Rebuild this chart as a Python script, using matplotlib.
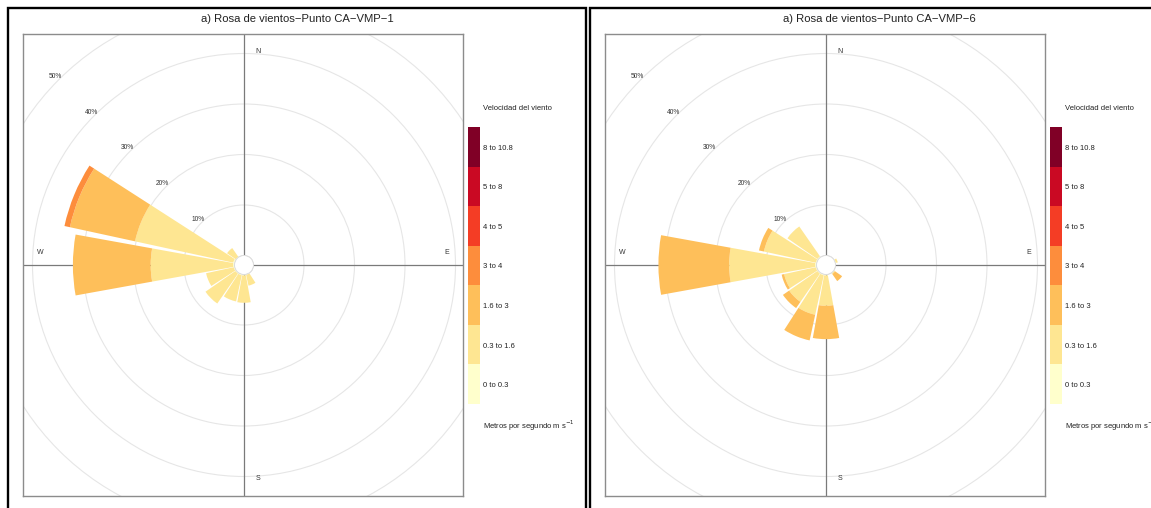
import matplotlib
matplotlib.use("Agg")
import matplotlib.pyplot as plt
from matplotlib.patches import Wedge, Circle, Rectangle

plt.rcParams['font.family'] = ['Liberation Sans', 'DejaVu Sans']

# ---------------- data ----------------
directions = [0, 22.5, 45, 67.5, 90, 112.5, 135, 157.5,
              180, 202.5, 225, 247.5, 270, 292.5, 315, 337.5]
speed_labels = ["0 to 0.3", "0.3 to 1.6", "1.6 to 3", "3 to 4",
                "4 to 5", "5 to 8", "8 to 10.8"]
ring_pcts = [10, 20, 30, 40, 50]
ring_labels = ["10%", "20%", "30%", "40%", "50%"]
titles = ["a) Rosa de vientos\u2212Punto CA\u2212VMP\u22121",
          "a) Rosa de vientos\u2212Punto CA\u2212VMP\u22126"]

# Percent of time per direction for each speed bin (CA-VMP-1)
vmp1_0_03 = [0, 0, 0, 0, 0, 0, 0, 0.1, 0.2, 0.2, 0.2, 0.2, 0.3, 0.3, 0.1, 0]
vmp1_03_16 = [0, 0, 0, 0, 0, 0, 0, 2.2, 5.4, 5.3, 7.2, 5.6, 16.3, 19.9, 2.1, 0]
vmp1_16_3 = [0, 0, 0, 0, 0, 0, 0, 0, 0, 0, 0, 0, 15.4, 13.2, 0, 0]
vmp1_3_4 = [0, 0, 0, 0, 0, 0, 0, 0, 0, 0, 0, 0, 0, 1.1, 0, 0]

# Percent of time per direction for each speed bin (CA-VMP-6)
vmp6_0_03 = [0, 0, 0, 0.1, 0, 0, 0.1, 0, 0.2, 0.2, 0.2, 0.2, 0.3, 0.2, 0.2, 0]
vmp6_03_16 = [0, 0, 0, 0.4, 0, 0, 0.2, 0, 6.0, 8.0, 6.8, 6.4, 17.0, 10.5, 7.2, 0]
vmp6_16_3 = [0, 0, 0, 0, 0, 0, 1.7, 0, 6.6, 5.2, 1.5, 0.5, 14.0, 1.0, 0, 0]
vmp6_3_4 = [0] * 16

panels = [
    [vmp1_0_03, vmp1_03_16, vmp1_16_3, vmp1_3_4],
    [vmp6_0_03, vmp6_03_16, vmp6_16_3, vmp6_3_4],
]

# ---------------- style ----------------
colors = ["#FFFFCC", "#FEE692", "#FEBF5A", "#FD8D3C",
          "#F43D25", "#CA0923", "#800026"]
W_PX, H_PX = 1151, 508
SCALE = 5.05            # pixels per percent
OFF = 9.5 / SCALE       # hollow centre radius in percent units
HALF = 10.25            # half width of petal in degrees

fig = plt.figure(figsize=(W_PX / 100, H_PX / 100), dpi=100)


def fx(x):
    return x / W_PX


def fy(y):
    return 1 - y / H_PX


def draw_panel(dx, title, bins):
    # outer panel frame
    fig.patches.append(Rectangle((fx(8 + dx), fy(530)), 578 / W_PX, 522 / H_PX,
                                 transform=fig.transFigure, fill=False,
                                 ec="black", lw=1.7, clip_on=False))
    fig.text(fx(297 + dx), fy(19.5), title, ha="center", va="center",
             fontsize=8.1, color="#222222")

    left, right, top, bottom = 23 + dx, 463 + dx, 34, 496
    cx, cy = 244 + dx, 265
    ax = fig.add_axes([fx(left), fy(bottom), (right - left) / W_PX,
                       (bottom - top) / H_PX])
    ax.set_xlim(-(cx - left) / SCALE, (right - cx) / SCALE)
    ax.set_ylim(-(bottom - cy) / SCALE, (cy - top) / SCALE)
    ax.set_xticks([])
    ax.set_yticks([])
    for s in ax.spines.values():
        s.set_color("#8c8c8c")
        s.set_linewidth(1.0)

    # rings
    for p, lab in zip(ring_pcts, ring_labels):
        ax.add_patch(Circle((0, 0), OFF + p, fill=False, ec="#e6e6e6",
                            lw=0.8, zorder=1))
        r = OFF + p + 0.9
        ax.text(-r * 0.7071, r * 0.7071, lab, ha="center", va="center",
                fontsize=4.8, color="#333333", zorder=5)
    ax.add_patch(Circle((0, 0), OFF, fill=False, ec="#dcdcdc", lw=0.7,
                        zorder=1))
    ax.axhline(0, color="#7a7a7a", lw=0.9, zorder=2)
    ax.axvline(0, color="#7a7a7a", lw=0.9, zorder=2)

    # petals
    for i, d in enumerate(directions):
        start = OFF
        for b, vals in enumerate(bins):
            v = vals[i]
            if v <= 0:
                continue
            ang = 90 - d
            ax.add_patch(Wedge((0, 0), start + v, ang - HALF, ang + HALF,
                               width=v, fc=colors[b], ec="none", zorder=3))
            start += v
    # hollow centre
    ax.add_patch(Circle((0, 0), OFF, fc="white", ec="#dcdcdc", lw=0.7,
                        zorder=4))

    # compass labels
    kw = dict(fontsize=5, color="#333333", ha="center", va="center")
    ax.text(2.8, 42.2, "N", **kw)
    ax.text(2.8, -42.2, "S", **kw)
    ax.text(-40.4, 2.4, "W", **kw)
    ax.text(40.2, 2.4, "E", **kw)

    # legend key
    lax = fig.add_axes([fx(468 + dx), fy(404), 12 / W_PX, 277 / H_PX])
    for k, c in enumerate(colors):
        lax.bar(0, 1, bottom=k, width=1, color=c, edgecolor="none")
    lax.set_xlim(-0.5, 0.5)
    lax.set_ylim(0, len(colors))
    lax.axis("off")
    for k, lab in enumerate(speed_labels):
        y = 404 - (k + 0.5) * 277 / len(colors) + 1.5
        fig.text(fx(483 + dx), fy(y), lab, fontsize=5.5, va="center",
                 ha="left", color="#222222")
    fig.text(fx(483 + dx), fy(108), "Velocidad del viento", fontsize=5.5,
             va="center", ha="left", color="#222222")
    fig.text(fx(483 + dx), fy(426), "Metros por segundo m s$^{-1}$",
             fontsize=5.5, va="center", ha="left", color="#222222")


draw_panel(0, titles[0], panels[0])
draw_panel(582, titles[1], panels[1])

fig.savefig("out.png", dpi=100)
